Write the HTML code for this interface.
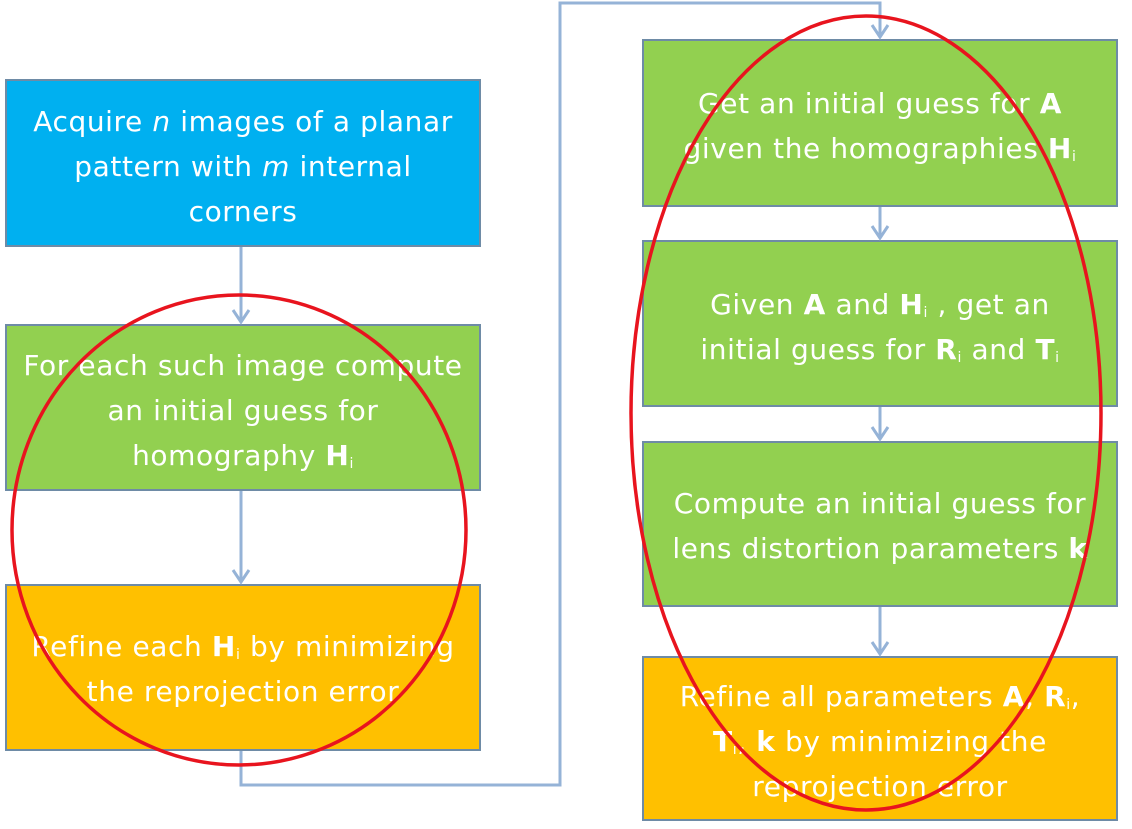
<!DOCTYPE html>
<html><head><style>
body{margin:0;background:#fff;width:1132px;height:829px;overflow:hidden}
svg{display:block}
text{font-family:"DejaVu Sans","Liberation Sans",sans-serif;font-size:28px;letter-spacing:0.6px;fill:#fff;text-anchor:middle}
</style></head><body>
<svg width="1132" height="829" viewBox="0 0 1132 829">
<g stroke="#6E8BA6" stroke-width="2">
<rect x="6" y="80" width="474" height="166" fill="#00B0F0"/>
<rect x="6" y="325" width="474" height="165" fill="#92D050"/>
<rect x="6" y="585" width="474" height="165" fill="#FFC000"/>
<rect x="643" y="40" width="474" height="166" fill="#92D050"/>
<rect x="643" y="241" width="474" height="165" fill="#92D050"/>
<rect x="643" y="442" width="474" height="164" fill="#92D050"/>
<rect x="643" y="657" width="474" height="163" fill="#FFC000"/>
</g>
<g stroke="#95B3D7" stroke-width="3" fill="none">
<line x1="241" y1="247" x2="241" y2="322"/><polyline points="233,310 241,322 249,310"/>
<line x1="241" y1="491" x2="241" y2="582"/><polyline points="233,570 241,582 249,570"/>
<polyline points="241,751 241,785 560,785 560,3 880,3 880,37"/><polyline points="872,25 880,37 888,25"/>
<line x1="880" y1="207" x2="880" y2="238"/><polyline points="872,226 880,238 888,226"/>
<line x1="880" y1="407" x2="880" y2="439"/><polyline points="872,427 880,439 888,427"/>
<line x1="880" y1="607" x2="880" y2="654"/><polyline points="872,642 880,654 888,642"/>
</g>
<text x="243" y="131">Acquire <tspan font-style="italic">n</tspan> images of a planar</text>
<text x="243" y="176">pattern with <tspan font-style="italic">m</tspan> internal</text>
<text x="243" y="221">corners</text>
<text x="243" y="375">For each such image compute</text>
<text x="243" y="420">an initial guess for</text>
<text x="243" y="465">homography <tspan font-weight="bold">H</tspan><tspan font-size="14" dy="3">i</tspan></text>
<text x="243" y="656">Refine each <tspan font-weight="bold">H</tspan><tspan font-size="14" dy="3">i</tspan><tspan dy="-3"> by minimizing</tspan></text>
<text x="243" y="701">the reprojection error</text>
<text x="880" y="113">Get an initial guess for <tspan font-weight="bold">A</tspan></text>
<text x="880" y="158">given the homographies <tspan font-weight="bold">H</tspan><tspan font-size="14" dy="3">i</tspan></text>
<text x="880" y="314">Given <tspan font-weight="bold">A</tspan> and <tspan font-weight="bold">H</tspan><tspan font-size="14" dy="3">i</tspan><tspan dy="-3"> , get an</tspan></text>
<text x="880" y="359">initial guess for <tspan font-weight="bold">R</tspan><tspan font-size="14" dy="3">i</tspan><tspan dy="-3"> and </tspan><tspan font-weight="bold">T</tspan><tspan font-size="14" dy="3">i</tspan></text>
<text x="880" y="513">Compute an initial guess for</text>
<text x="880" y="558">lens distortion parameters <tspan font-weight="bold">k</tspan></text>
<text x="880" y="706">Refine all parameters <tspan font-weight="bold">A</tspan>, <tspan font-weight="bold">R</tspan><tspan font-size="14" dy="3">i</tspan><tspan dy="-3">,</tspan></text>
<text x="880" y="751"><tspan font-weight="bold">T</tspan><tspan font-size="14" dy="3">i</tspan><tspan dy="-3">, </tspan><tspan font-weight="bold">k</tspan> by minimizing the</text>
<text x="880" y="796">reprojection error</text>
<g fill="none" stroke="#E8141E" stroke-width="3.5">
<ellipse cx="239" cy="530" rx="227" ry="235"/>
<ellipse cx="866" cy="413" rx="235" ry="397"/>
</g>
</svg>
</body></html>
